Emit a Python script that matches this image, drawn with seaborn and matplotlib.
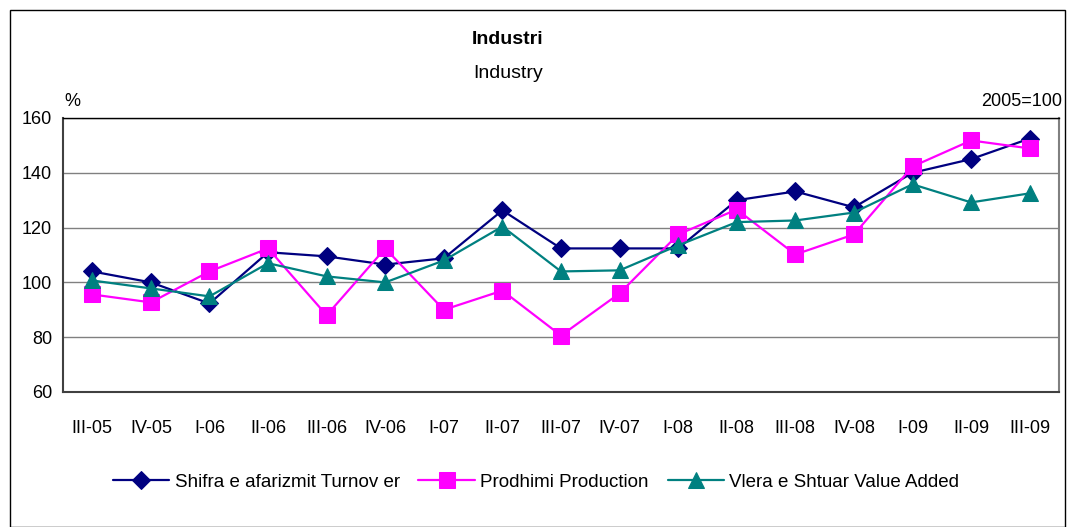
import matplotlib
matplotlib.use("Agg")
import matplotlib.pyplot as plt
import numpy as np
import pandas as pd
import seaborn as sns
from matplotlib.patches import Rectangle
from matplotlib.ticker import FixedLocator

quarters = ["III-05", "IV-05", "I-06", "II-06", "III-06", "IV-06", "I-07", "II-07",
            "III-07", "IV-07", "I-08", "II-08", "III-08", "IV-08", "I-09", "II-09", "III-09"]
turnover = [104, 100, 92.3, 111, 109.5, 106.5, 108.8, 126.3, 112.4, 112.4, 112.4,
            130, 133.2, 127.4, 140, 145, 152.5]
production = [95.6, 92.7, 104, 112.4, 88, 112.4, 90, 97, 80.6, 96, 117.5,
              126.6, 110.2, 117.5, 142.3, 151.8, 148.9]
value_added = [100.7, 97.8, 94.9, 107, 102.2, 100, 108, 120.4, 104, 104.4, 113.5,
               122, 122.6, 125.5, 135.8, 129.2, 132.5]

series = [
    ("Shifra e afarizmit Turnov er", turnover, "#000080", "D", 9),
    ("Prodhimi Production", production, "#FF00FF", "s", 11),
    ("Vlera e Shtuar Value Added", value_added, "#008080", "^", 11),
]

sns.set_style("white")
plt.rcParams["font.family"] = ["Liberation Sans", "DejaVu Sans"]
plt.rcParams["text.color"] = "black"
plt.rcParams["xtick.color"] = "black"
plt.rcParams["ytick.color"] = "black"

fig = plt.figure(figsize=(10.74, 5.27), dpi=100)
ax = fig.add_axes([63 / 1074, 1 - 392 / 527, (1059 - 63) / 1074, (392 - 118) / 527])

pos = np.arange(len(quarters))
for name, vals, color, marker, ms in series:
    df = pd.DataFrame({"x": pos, "y": vals})
    sns.lineplot(data=df, x="x", y="y", ax=ax, color=color, marker=marker,
                 markersize=ms, markeredgecolor=color, linewidth=1.6, label=name)

ax.set_xlim(-0.5, len(quarters) - 0.5)
ax.set_ylim(60, 160)
ax.set_yticks([60, 80, 100, 120, 140, 160])
ax.yaxis.grid(True, color="#808080", linewidth=1)
ax.set_axisbelow(True)
ax.set_xticks(pos)
ax.set_xticklabels(quarters)
ax.xaxis.set_minor_locator(FixedLocator(np.arange(-0.5, len(quarters), 1)))
ax.tick_params(axis="x", which="major", length=0, pad=20, labelsize=13)
ax.tick_params(axis="x", which="minor", length=6, width=1, color="black", direction="out")
ax.tick_params(axis="y", length=5, width=1, color="black", direction="out", labelsize=13, pad=3)
ax.set_xlabel("")
ax.set_ylabel("")

for side in ["left", "bottom"]:
    ax.spines[side].set_color("#404040")
    ax.spines[side].set_linewidth(1.5)
ax.spines["top"].set_color("black")
ax.spines["top"].set_linewidth(1)
ax.spines["right"].set_color("#808080")
ax.spines["right"].set_linewidth(1.5)

fig.text(508 / 1074, 1 - 40 / 527, "Industri", ha="center", va="center",
         fontsize=14, fontweight="bold")
fig.text(508 / 1074, 1 - 73 / 527, "Industry", ha="center", va="center", fontsize=14)
fig.text(72 / 1074, 1 - 102 / 527, "%", ha="center", va="center", fontsize=13)
fig.text(1062 / 1074, 1 - 102 / 527, "2005=100", ha="right", va="center", fontsize=13)

ax.legend(loc="center", bbox_to_anchor=(0.475, -0.33), ncol=3, frameon=False,
          fontsize=13.5, handlelength=3, columnspacing=1.0, handletextpad=0.3)

fig.add_artist(Rectangle((10 / 1074, 0), 1055 / 1074, 1 - 10 / 527,
                         transform=fig.transFigure, fill=False,
                         edgecolor="black", linewidth=1))

fig.savefig("out.png", dpi=100)
